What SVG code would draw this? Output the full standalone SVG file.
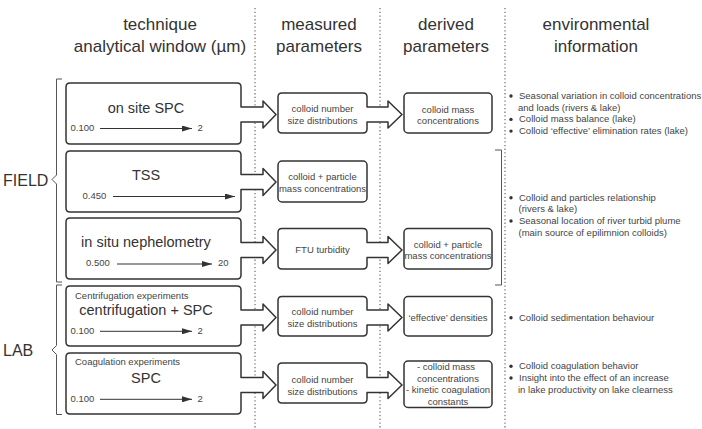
<svg xmlns="http://www.w3.org/2000/svg" width="702" height="429" viewBox="0 0 702 429">
<defs>
<marker id="ah" viewBox="0 0 10 6" refX="10" refY="3" markerWidth="10" markerHeight="6" markerUnits="userSpaceOnUse" orient="auto">
<path d="M0,0 L10,3 L0,6 Z" fill="#333"/>
</marker>
</defs>
<style>
.hdr{font-family:"Liberation Sans",Arial,sans-serif;font-size:17px;fill:#333;text-anchor:middle}
.grp{font-family:"Liberation Sans",Arial,sans-serif;font-size:16px;fill:#333}
.big{font-family:"Liberation Sans",Arial,sans-serif;font-size:14.5px;fill:#333;text-anchor:middle}
.sm{font-family:"Liberation Sans",Arial,sans-serif;font-size:9.5px;fill:#444}
.smc{font-family:"Liberation Sans",Arial,sans-serif;font-size:9.5px;fill:#444;text-anchor:middle}
.box{fill:#fff;stroke:#333;stroke-width:1.5;stroke-linejoin:round}
.dot{stroke:#777;stroke-width:1.3;stroke-dasharray:1.3 2.4;fill:none}
.brk{stroke:#555;stroke-width:1;fill:none}
.rng{stroke:#333;stroke-width:1;fill:none}
.bul{fill:#333}
</style>

<g id="dividers">
<line class="dot" x1="255" y1="8" x2="255" y2="429"/>
<line class="dot" x1="380" y1="8" x2="380" y2="429"/>
<line class="dot" x1="505" y1="8" x2="505" y2="429"/>
</g>

<g id="headers">
<text class="hdr" x="160" y="30">technique</text>
<text class="hdr" x="160" y="52">analytical window (µm)</text>
<text class="hdr" x="319" y="30">measured</text>
<text class="hdr" x="319" y="52">parameters</text>
<text class="hdr" x="446" y="30">derived</text>
<text class="hdr" x="446" y="52">parameters</text>
<text class="hdr" x="596" y="30">environmental</text>
<text class="hdr" x="596" y="52">information</text>
</g>

<g id="field">
<path class="brk" d="M62,79 H56.5 V175 L52,179.5 L56.5,184 V282 H62"/>
<text class="grp" x="3" y="186">FIELD</text>
</g>
<g id="lab">
<path class="brk" d="M62,285 H56.5 V345.5 L52,350 L56.5,354.5 V414.5 H62"/>
<text class="grp" x="3" y="356">LAB</text>
</g>

<g id="connectors">
<!-- technique -> measured arrows are integrated into technique box outlines; measured -> derived into measured outlines -->
</g>

<g id="tech-spc">
<path class="box" d="M70,83 H237 Q241,83 241,87 V107 H263 V101 L276,114.5 L263,128 V122 H241 V140 Q241,144 237,144 H70 Q66,144 66,140 V87 Q66,83 70,83 Z"/>
<text class="big" x="146" y="112.5">on site SPC</text>
<text class="sm" x="70.5" y="131">0.100</text>
<line class="rng" x1="100" y1="128.5" x2="192" y2="128.5" marker-end="url(#ah)"/>
<text class="sm" x="197.5" y="131">2</text>
</g>

<g id="tech-tss">
<path class="box" d="M70,151 H237 Q241,151 241,155 V174.5 H263 V168.5 L276,182 L263,195.5 V189.5 H241 V208 Q241,212 237,212 H70 Q66,212 66,208 V155 Q66,151 70,151 Z"/>
<text class="big" x="146" y="180">TSS</text>
<text class="sm" x="82.5" y="198.5">0.450</text>
<line class="rng" x1="113" y1="196.5" x2="235" y2="196.5" marker-end="url(#ah)"/>
</g>

<g id="tech-neph">
<path class="box" d="M70,218 H237 Q241,218 241,222 V242.5 H263 V236.5 L276,250 L263,263.5 V257.5 H241 V275 Q241,279 237,279 H70 Q66,279 66,275 V222 Q66,218 70,218 Z"/>
<text class="big" x="146" y="246.5">in situ nephelometry</text>
<text class="sm" x="86" y="266">0.500</text>
<line class="rng" x1="117" y1="264" x2="212" y2="264" marker-end="url(#ah)"/>
<text class="sm" x="218" y="266">20</text>
</g>

<g id="tech-centrif">
<path class="box" d="M70,286 H237 Q241,286 241,290 V310 H263 V304 L276,317.5 L263,331 V325 H241 V342 Q241,346 237,346 H70 Q66,346 66,342 V290 Q66,286 70,286 Z"/>
<text class="sm" x="75" y="299">Centrifugation experiments</text>
<text class="big" x="146" y="314.5">centrifugation + SPC</text>
<text class="sm" x="70.5" y="333.5">0.100</text>
<line class="rng" x1="100" y1="331.3" x2="192" y2="331.3" marker-end="url(#ah)"/>
<text class="sm" x="197.5" y="333.5">2</text>
</g>

<g id="tech-coag">
<path class="box" d="M70,353 H237 Q241,353 241,357 V377.5 H263 V371.5 L276,385 L263,398.5 V392.5 H241 V410 Q241,414 237,414 H70 Q66,414 66,410 V357 Q66,353 70,353 Z"/>
<text class="sm" x="75" y="365">Coagulation experiments</text>
<text class="big" x="146" y="382.5">SPC</text>
<text class="sm" x="70.5" y="401.5">0.100</text>
<line class="rng" x1="100" y1="399.3" x2="192" y2="399.3" marker-end="url(#ah)"/>
<text class="sm" x="197.5" y="401.5">2</text>
</g>

<g id="meas-1">
<path class="box" d="M282,93 H363 Q367,93 367,97 V107 H388 V101 L402,114.5 L388,128 V122 H367 V129 Q367,133 363,133 H282 Q278,133 278,129 V97 Q278,93 282,93 Z"/>
<text class="smc" x="322.5" y="112">colloid number</text>
<text class="smc" x="322.5" y="123.5">size distributions</text>
</g>

<g id="meas-2">
<rect class="box" x="278" y="161" width="89" height="41" rx="4"/>
<text class="smc" x="322.5" y="180">colloid + particle</text>
<text class="smc" x="322.5" y="191.5">mass concentrations</text>
</g>

<g id="meas-3">
<path class="box" d="M282,228.5 H363 Q367,228.5 367,232.5 V242.5 H388 V236.5 L402,250 L388,263.5 V257.5 H367 V265 Q367,269 363,269 H282 Q278,269 278,265 V232.5 Q278,228.5 282,228.5 Z"/>
<text class="smc" x="322.5" y="253">FTU turbidity</text>
</g>

<g id="meas-4">
<path class="box" d="M282,296.5 H363 Q367,296.5 367,300.5 V310 H388 V304 L402,317.5 L388,331 V325 H367 V332 Q367,336 363,336 H282 Q278,336 278,332 V300.5 Q278,296.5 282,296.5 Z"/>
<text class="smc" x="322.5" y="315">colloid number</text>
<text class="smc" x="322.5" y="326.5">size distributions</text>
</g>

<g id="meas-5">
<path class="box" d="M282,363 H363 Q367,363 367,367 V377.5 H388 V371.5 L402,385 L388,398.5 V392.5 H367 V399 Q367,403 363,403 H282 Q278,403 278,399 V367 Q278,363 282,363 Z"/>
<text class="smc" x="322.5" y="383">colloid number</text>
<text class="smc" x="322.5" y="394.5">size distributions</text>
</g>

<g id="der-1">
<rect class="box" x="404" y="93" width="88" height="40" rx="4"/>
<text class="smc" x="448" y="112.5">colloid mass</text>
<text class="smc" x="448" y="124">concentrations</text>
</g>

<g id="der-3">
<rect class="box" x="404" y="228.5" width="88" height="40.5" rx="4"/>
<text class="smc" x="448" y="247.5">colloid + particle</text>
<text class="smc" x="448" y="259">mass concentrations</text>
</g>

<g id="der-4">
<rect class="box" x="404" y="296.5" width="88" height="39.5" rx="4"/>
<text class="smc" x="448" y="320.5">‘effective’ densities</text>
</g>

<g id="der-5">
<rect class="box" x="404" y="361" width="88" height="46.5" rx="4"/>
<text class="smc" x="446" y="369.5">- colloid mass</text>
<text class="smc" x="448" y="381.5">concentrations</text>
<text class="smc" x="448" y="393">- kinetic coagulation</text>
<text class="smc" x="448" y="404.5">constants</text>
</g>

<g id="env-1">
<circle class="bul" cx="511" cy="96" r="1.7"/>
<text class="sm" x="519" y="99">Seasonal variation in colloid concentrations</text>
<text class="sm" x="518" y="110.7">and loads (rivers &amp; lake)</text>
<circle class="bul" cx="511" cy="119.4" r="1.7"/>
<text class="sm" x="519" y="122.4">Colloid mass balance (lake)</text>
<circle class="bul" cx="511" cy="131.1" r="1.7"/>
<text class="sm" x="519" y="134.1">Colloid ‘effective’ elimination rates (lake)</text>
</g>

<g id="env-2">
<path class="brk" d="M495,150 H501.5 V285 H495"/>
<circle class="bul" cx="511" cy="197.7" r="1.7"/>
<text class="sm" x="519" y="200.7">Colloid and particles relationship</text>
<text class="sm" x="518.5" y="212.3">(rivers &amp; lake)</text>
<circle class="bul" cx="511" cy="221" r="1.7"/>
<text class="sm" x="519" y="224">Seasonal location of river turbid plume</text>
<text class="sm" x="518.5" y="235.7">(main source of epilimnion colloids)</text>
</g>

<g id="env-3">
<circle class="bul" cx="511" cy="317.7" r="1.7"/>
<text class="sm" x="519" y="320.7">Colloid sedimentation behaviour</text>
</g>

<g id="env-4">
<circle class="bul" cx="511" cy="366.3" r="1.7"/>
<text class="sm" x="519" y="369.3">Colloid coagulation behavior</text>
<circle class="bul" cx="511" cy="378" r="1.7"/>
<text class="sm" x="519" y="381">Insight into the effect of an increase</text>
<text class="sm" x="518" y="392.7">in lake productivity on lake clearness</text>
</g>
</svg>
